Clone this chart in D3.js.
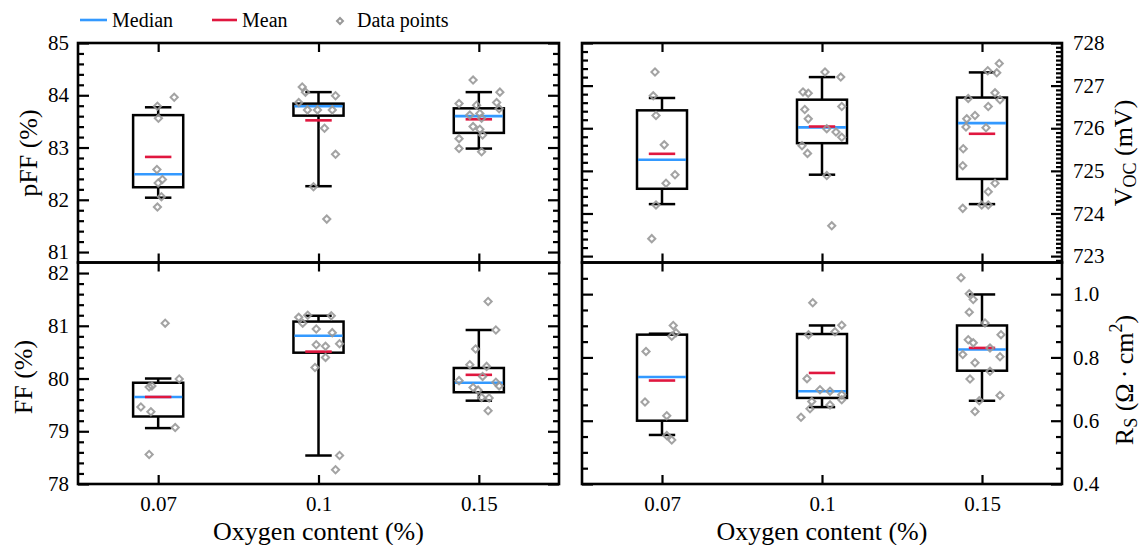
<!DOCTYPE html>
<html><head><meta charset="utf-8">
<script src="https://cdn.jsdelivr.net/npm/d3@7"></script>
<style>
body{margin:0;background:#fff;}
svg text{font-family:'Liberation Serif','Times New Roman',Times,'DejaVu Serif',serif !important;fill:#000;}
</style>
</head><body>
<svg id="c" width="1141" height="545"></svg>
<script>
const categories = ["0.07", "0.1", "0.15"];

// box statistics per category: [lower whisker, Q1, median, Q3, upper whisker, mean]
const pffBox = [[82.04, 82.24, 82.49, 83.62, 83.77, 82.82],
                [82.26, 83.61, 83.79, 83.84, 84.06, 83.52],
                [82.98, 83.28, 83.60, 83.75, 84.06, 83.54]];
const vocBox = [[724.22, 724.58, 725.26, 726.42, 726.71, 725.40],
                [724.91, 725.65, 726.02, 726.67, 727.20, 726.04],
                [724.22, 724.81, 726.12, 726.72, 727.31, 725.87]];
const ffBox  = [[79.06, 79.28, 79.65, 79.92, 80.00, 79.65],
                [78.54, 80.49, 80.81, 81.08, 81.19, 80.51],
                [79.58, 79.74, 79.92, 80.20, 80.92, 80.07]];
const rsBox  = [[0.555, 0.600, 0.738, 0.872, 0.875, 0.727],
                [0.643, 0.672, 0.693, 0.874, 0.901, 0.751],
                [0.663, 0.758, 0.825, 0.901, 0.999, 0.830]];

// individual data points per category
const pffPoints = [[83.79, 83.56, 83.96, 82.58, 82.39, 82.32, 82.06, 81.86],
                   [84.16, 84.06, 83.99, 83.86, 83.72, 83.72, 83.72, 83.37, 82.87, 82.25, 81.63],
                   [84.29, 84.06, 83.86, 83.84, 83.74, 83.81, 83.62, 83.65, 83.56, 83.40, 83.35, 83.24, 83.17, 82.98, 82.92]];
const vocPoints = [[727.32, 726.76, 726.30, 725.61, 724.91, 724.71, 724.20, 723.41],
                   [727.32, 727.20, 726.85, 726.82, 726.51, 726.44, 726.22, 725.99, 725.91, 725.79, 725.59, 725.41, 724.89, 723.71],
                   [727.52, 727.35, 727.30, 726.83, 726.67, 726.70, 726.51, 726.30, 726.22, 726.03, 726.01, 725.52, 725.12, 724.71, 724.51, 724.20, 724.20, 724.12]];
const ffPoints  = [[81.05, 79.99, 79.84, 79.86, 79.46, 79.37, 79.07, 78.56],
                   [81.20, 81.19, 81.16, 81.05, 80.94, 80.87, 80.66, 80.64, 80.61, 80.40, 80.21, 78.54, 78.27],
                   [81.46, 80.92, 80.56, 80.26, 80.23, 79.96, 80.04, 79.86, 79.83, 79.78, 79.63, 79.64, 79.39, 79.93]];
const rsPoints  = [[0.901, 0.867, 0.878, 0.819, 0.659, 0.616, 0.553, 0.539],
                   [0.973, 0.902, 0.881, 0.872, 0.733, 0.698, 0.693, 0.682, 0.666, 0.661, 0.650, 0.638, 0.611],
                   [1.052, 1.001, 0.983, 0.943, 0.909, 0.872, 0.856, 0.846, 0.830, 0.809, 0.802, 0.783, 0.756, 0.732, 0.680, 0.663, 0.629]];

// horizontal spread of the points (in box half-widths)
const pffJitter = [[-0.03, 0.01, 0.64, -0.05, 0.17, 0, 0.13, -0.03],
                   [-0.65, -0.52, 0.68, -0.79, -0.44, -0.04, 0.55, 0.24, 0.68, -0.2, 0.33],
                   [-0.23, 0.84, 0.71, -0.79, 0.81, -0.09, -0.36, 0.04, 0.11, -0.23, 0.04, 0.15, -0.79, -0.79, 0.11]];
const vocJitter = [[-0.28, -0.35, -0.24, 0.09, 0.52, 0.16, -0.24, -0.41],
                   [0.12, 0.75, -0.76, -0.55, 0.79, -0.69, -0.55, 0.19, 0.56, 0.79, -0.8, -0.58, 0.19, 0.39],
                   [0.69, 0.23, 0.59, 0.52, 0.72, -0.55, 0.25, -0.28, -0.61, -0.64, 0.16, -0.75, -0.77, 0.52, 0.25, -0.01, 0.25, -0.77]];
const ffJitter  = [[0.28, 0.84, -0.36, -0.25, -0.69, -0.29, 0.68, -0.36],
                   [-0.43, 0.51, -0.79, -0.63, -0.09, 0.55, 0.84, -0.09, 0.28, 0.28, -0.14, 0.84, 0.68],
                   [0.37, 0.68, -0.13, -0.36, 0.31, -0.79, 0.15, 0.81, -0.23, -0.03, 0.41, 0.11, 0.37, 0.68]];
const rsJitter  = [[0.45, 0.39, 0.56, -0.64, -0.68, 0.19, 0.19, 0.39],
                   [-0.37, 0.79, 0.52, -0.54, -0.6, -0.08, 0.32, 0.79, 0.79, -0.41, 0.32, -0.48, -0.84],
                   [-0.84, -0.51, -0.35, -0.51, 0.12, 0.76, -0.55, -0.35, 0.32, -0.77, 0.72, -0.28, 0.32, -0.48, 0.72, -0.11, -0.28]];

const pffDomain = [80.8, 85];
const vocDomain = [722.85, 728];
const ffDomain = [78, 82.2];
const rsDomain = [0.4, 1.1];
const pffTicks = [81, 82, 83, 84, 85];
const vocTicks = [723, 724, 725, 726, 727, 728];
const ffTicks = [78, 79, 80, 81, 82];
const rsTicks = [0.4, 0.6, 0.8, 1.0];

const legendLabels = ["Median", "Mean", "Data points"];
const xTitle = "Oxygen content (%)";

const FONT = "'Liberation Serif','Times New Roman',Times,'DejaVu Serif',serif";
const BLUE = "#3399ff", RED = "#e0173f", GRAY = "#999999";
const svg = d3.select("#c");

function minorValues(domain, step, majors) {
  const a = Math.ceil(domain[0] / step - 1e-6), b = Math.floor(domain[1] / step + 1e-6);
  return d3.range(a, b + 1).map(i => +(i * step).toFixed(5))
    .filter(v => v > domain[0] + 1e-6 && v < domain[1] - 1e-6)
    .filter(v => !majors.some(m => Math.abs(m - v) < 1e-6));
}

function styleAxis(sel) {
  sel.attr("font-family", FONT).attr("font-size", 21);
  sel.select(".domain").remove();
  sel.selectAll(".tick line").attr("stroke", "#000").attr("stroke-width", 2.2);
  sel.selectAll(".tick text").attr("fill", "#000");
}

function panel(cfg) {
  const { x0, x1, y0, y1, domain, box, points, jitter, ticks, fmt, minorL, minorR, side, xLabels } = cfg;
  const x = d3.scalePoint().domain(categories).range([x0, x1]).padding(0.5);
  const y = d3.scaleLinear().domain(domain).range([y1, y0]);
  const g = svg.append("g");
  const bw = x.step() * 0.3125, cw = x.step() * 0.165;

  // y axes
  const majL = d3.axisLeft(y).tickValues(ticks).tickSize(-11).tickPadding(9)
    .tickFormat(side === "left" ? fmt : () => "");
  g.append("g").attr("transform", `translate(${x0},0)`).call(majL).call(styleAxis);
  g.append("g").attr("transform", `translate(${x0},0)`)
    .call(d3.axisLeft(y).tickValues(minorValues(domain, minorL, ticks)).tickSize(-6).tickFormat(() => ""))
    .call(styleAxis);
  const majR = d3.axisRight(y).tickValues(ticks).tickSize(-11).tickPadding(11)
    .tickFormat(side === "right" ? fmt : () => "");
  g.append("g").attr("transform", `translate(${x1},0)`).call(majR).call(styleAxis);
  g.append("g").attr("transform", `translate(${x1},0)`)
    .call(d3.axisRight(y).tickValues(minorValues(domain, minorR, ticks)).tickSize(-6).tickFormat(() => ""))
    .call(styleAxis);

  // x axes
  g.append("g").attr("transform", `translate(0,${y0})`)
    .call(d3.axisTop(x).tickSize(-9).tickFormat(() => "")).call(styleAxis);
  const xb = g.append("g").attr("transform", `translate(0,${y1})`)
    .call(d3.axisBottom(x).tickSize(-9).tickPadding(11).tickFormat(xLabels ? d => d : () => ""))
    .call(styleAxis);
  xb.selectAll(".tick text").attr("dy", "0.75em");

  // boxes
  categories.forEach((c, i) => {
    const [lo, q1, med, q3, hi, mean] = box[i];
    const cx = x(c);
    const bg = g.append("g").attr("stroke", "#000").attr("stroke-width", 2.5).attr("fill", "none");
    bg.append("line").attr("x1", cx).attr("x2", cx).attr("y1", y(hi)).attr("y2", y(q3));
    bg.append("line").attr("x1", cx).attr("x2", cx).attr("y1", y(q1)).attr("y2", y(lo));
    bg.append("line").attr("x1", cx - cw / 2).attr("x2", cx + cw / 2).attr("y1", y(hi)).attr("y2", y(hi));
    bg.append("line").attr("x1", cx - cw / 2).attr("x2", cx + cw / 2).attr("y1", y(lo)).attr("y2", y(lo));
    bg.append("rect").attr("x", cx - bw / 2).attr("y", y(q3)).attr("width", bw).attr("height", y(q1) - y(q3));
    g.append("line").attr("x1", cx - bw / 2 + 1).attr("x2", cx + bw / 2 - 1).attr("y1", y(med)).attr("y2", y(med))
      .attr("stroke", BLUE).attr("stroke-width", 2.6);
    g.append("line").attr("x1", cx - cw / 2).attr("x2", cx + cw / 2).attr("y1", y(mean)).attr("y2", y(mean))
      .attr("stroke", RED).attr("stroke-width", 2.6);
    const sym = d3.symbol().type(d3.symbolSquare).size(26);
    g.append("g").selectAll("path").data(points[i]).join("path")
      .attr("d", sym)
      .attr("transform", (d, k) => `translate(${cx + jitter[i][k] * bw / 2},${y(d)}) rotate(45)`)
      .attr("fill", "none").attr("stroke", GRAY).attr("stroke-width", 2).attr("opacity", 0.9);
  });

  // frame
  g.append("rect").attr("x", x0).attr("y", y0).attr("width", x1 - x0).attr("height", y1 - y0)
    .attr("fill", "none").attr("stroke", "#000").attr("stroke-width", 2.6);
  return { x, y };
}

const LX0 = 78, LX1 = 559, RX0 = 582, RX1 = 1062, TY0 = 43, MY = 262.5, BY1 = 484;

panel({ x0: LX0, x1: LX1, y0: TY0, y1: MY, domain: pffDomain, box: pffBox, points: pffPoints, jitter: pffJitter,
  ticks: pffTicks, fmt: d3.format("d"), minorL: 0.2, minorR: 0.2, side: "left", xLabels: false });
panel({ x0: LX0, x1: LX1, y0: MY, y1: BY1, domain: ffDomain, box: ffBox, points: ffPoints, jitter: ffJitter,
  ticks: ffTicks, fmt: d3.format("d"), minorL: 0.2, minorR: 0.2, side: "left", xLabels: true });
panel({ x0: RX0, x1: RX1, y0: TY0, y1: MY, domain: vocDomain, box: vocBox, points: vocPoints, jitter: vocJitter,
  ticks: vocTicks, fmt: d3.format("d"), minorL: 0.2, minorR: 0.1, side: "right", xLabels: false });
panel({ x0: RX0, x1: RX1, y0: MY, y1: BY1, domain: rsDomain, box: rsBox, points: rsPoints, jitter: rsJitter,
  ticks: rsTicks, fmt: d3.format(".1f"), minorL: 0.05, minorR: 0.05, side: "right", xLabels: true });

// axis titles
const T = 26;
function title(sel) { return sel.attr("font-family", FONT).attr("font-size", T).attr("text-anchor", "middle"); }
svg.append("text").attr("x", (LX0 + LX1) / 2).attr("y", 540).call(title).text(xTitle);
svg.append("text").attr("x", (RX0 + RX1) / 2).attr("y", 540).call(title).text(xTitle);
svg.append("text").attr("transform", `translate(37,153) rotate(-90)`).call(title).text("pFF (%)");
svg.append("text").attr("transform", `translate(32,377) rotate(-90)`).call(title).text("FF (%)");
const voc = svg.append("text").attr("transform", `translate(1132,153) rotate(-90)`).call(title);
voc.append("tspan").text("V");
voc.append("tspan").attr("dy", 4).attr("font-size", 18).text("OC");
voc.append("tspan").attr("dy", -4).text(" (mV)");
const rs = svg.append("text").attr("transform", `translate(1133,380) rotate(-90)`).call(title);
rs.append("tspan").text("R");
rs.append("tspan").attr("dy", 4).attr("font-size", 18).text("S");
rs.append("tspan").attr("dy", -4).text(" (Ω\u2009·\u2009cm");
rs.append("tspan").attr("dy", -11).attr("font-size", 18).text("2");
rs.append("tspan").attr("dy", 11).text(")");

// legend
const lg = svg.append("g").attr("font-family", FONT).attr("font-size", 20);
lg.append("line").attr("x1", 80).attr("x2", 107).attr("y1", 20).attr("y2", 20).attr("stroke", BLUE).attr("stroke-width", 2.6);
lg.append("text").attr("x", 112).attr("y", 27).text(legendLabels[0]);
lg.append("line").attr("x1", 212).attr("x2", 237).attr("y1", 20).attr("y2", 20).attr("stroke", RED).attr("stroke-width", 2.6);
lg.append("text").attr("x", 242).attr("y", 27).text(legendLabels[1]);
lg.append("path").attr("d", d3.symbol().type(d3.symbolSquare).size(18)).attr("transform", "translate(340,21) rotate(45)")
  .attr("fill", "none").attr("stroke", GRAY).attr("stroke-width", 2);
lg.append("text").attr("x", 357).attr("y", 27).text(legendLabels[2]);
</script>
</body></html>
